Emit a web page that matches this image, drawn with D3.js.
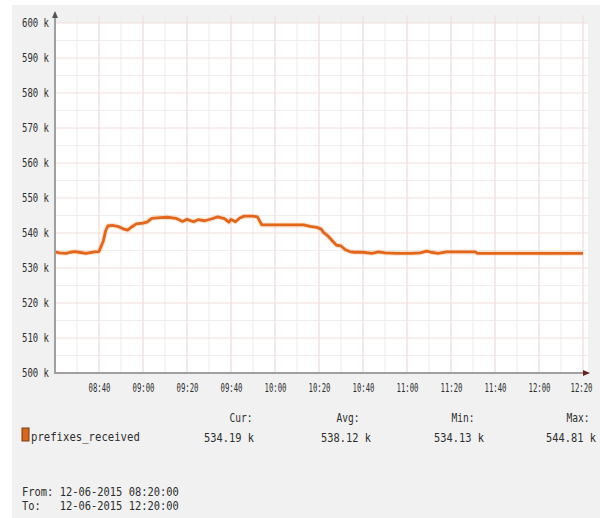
<!DOCTYPE html>
<html>
<head>
<meta charset="utf-8">
<script src="https://cdn.jsdelivr.net/npm/d3@7"></script>
<style>
  html, body { margin: 0; padding: 0; background: #ffffff; }
  svg { display: block; }
  text { font-family: "DejaVu Sans Mono", "Liberation Mono", monospace; fill: #2e2e2e; }
</style>
</head>
<body>
<svg id="chart" width="600" height="518"></svg>
<script>
// ---- data ----
const seriesName = "prefixes_received";
const times = ["08:20","08:22","08:25","08:27","08:29","08:31","08:34","08:36","08:38","08:40",
  "08:42","08:43","08:44","08:46","08:49","08:51","08:53","08:55","08:57","09:00",
  "09:02","09:04","09:08","09:11","09:15","09:18","09:20","09:23","09:25","09:28",
  "09:31","09:34","09:37","09:39","09:40","09:42","09:44","09:46","09:50","09:52",
  "09:54","10:00","10:07","10:13","10:16","10:19","10:21","10:22","10:24","10:26",
  "10:28","10:30","10:32","10:34","10:36","10:40","10:44","10:47","10:50","10:55",
  "11:02","11:06","11:09","11:11","11:14","11:18","11:24","11:31","11:32","11:50",
  "12:05","12:20"];
const values = [534.6,534.3,534.2,534.5,534.7,534.5,534.2,534.4,534.6,534.7,
  537.8,540.6,542.0,542.2,541.8,541.2,540.8,541.8,542.6,542.8,
  543.2,544.2,544.4,544.5,544.2,543.3,543.9,543.2,543.8,543.5,
  544.0,544.6,544.1,543.1,543.9,543.2,544.3,544.81,544.8,544.6,
  542.3,542.3,542.3,542.3,541.9,541.6,541.1,540.2,539.2,537.8,
  536.5,536.3,535.2,534.7,534.5,534.5,534.2,534.6,534.3,534.2,
  534.2,534.3,534.8,534.5,534.2,534.6,534.6,534.6,534.2,534.2,
  534.15,534.19];
const timeRange = ["08:20", "12:20"];
const yTicks = [500,510,520,530,540,550,560,570,580,590,600];
const xTickLabels = ["08:40","09:00","09:20","09:40","10:00","10:20","10:40","11:00","11:20","11:40","12:00","12:20"];
const statHeaders = ["Cur:", "Avg:", "Min:", "Max:"];
const statValues = ["534.19 k", "538.12 k", "534.13 k", "544.81 k"];
const fromText = "From: 12-06-2015 08:20:00";
const toText = "To:   12-06-2015 12:20:00";

// ---- layout ----
const svg = d3.select("#chart");
const L = 55, R = 583, T = 23, B = 373, plotRight = 588;
const parse = d3.timeParse("%H:%M");
const x = d3.scaleTime().domain(timeRange.map(parse)).range([L, R]);
const y = d3.scaleLinear().domain([500, 600]).range([B, T]);

// squeeze text horizontally to a target width (keeps anchor position)
function squeeze(sel, target) {
  sel.each(function () {
    const natural = this.getComputedTextLength();
    if (!natural) return;
    const sx = target / natural;
    const x0 = +(this.getAttribute("x") || 0);
    d3.select(this).attr("x", x0 / sx).attr("transform", `scale(${sx},1)`);
  });
}

// background
svg.append("rect").attr("x", 0).attr("y", 0).attr("width", 600).attr("height", 518).attr("fill", "#ffffff");
svg.append("rect").attr("x", 12).attr("y", 5).attr("width", 588).attr("height", 513).attr("fill", "#f1f1f1");
svg.append("rect").attr("x", L).attr("y", T).attr("width", plotRight - L).attr("height", B - T).attr("fill", "#ffffff");

// grid
const g = svg.append("g");
const minorX = d3.timeMinute.every(10).range(parse("08:20"), d3.timeMinute.offset(parse("12:20"), 1));
g.selectAll("line.vminor").data(minorX).join("line")
  .attr("x1", d => x(d)).attr("x2", d => x(d)).attr("y1", T - 8).attr("y2", B)
  .attr("stroke", "#ececec").attr("stroke-width", 1);
const minorY = d3.range(505, 600, 10);
g.selectAll("line.hminor").data(minorY).join("line")
  .attr("x1", L).attr("x2", plotRight).attr("y1", d => y(d)).attr("y2", d => y(d))
  .attr("stroke", "#eeeeee").attr("stroke-width", 1);
g.selectAll("line.hmajor").data(yTicks.slice(1)).join("line")
  .attr("x1", L).attr("x2", plotRight).attr("y1", d => y(d)).attr("y2", d => y(d))
  .attr("stroke", "#f1dede").attr("stroke-width", 1);
g.selectAll("line.vmajor").data(xTickLabels.map(parse)).join("line")
  .attr("x1", d => x(d)).attr("x2", d => x(d)).attr("y1", T - 8).attr("y2", B)
  .attr("stroke", "#f1dede").attr("stroke-width", 1);

// data line
const pts = times.map((t, i) => [parse(t), values[i]]);
const line = d3.line().x(d => x(d[0])).y(d => y(d[1])).curve(d3.curveLinear);
svg.append("path").datum(pts).attr("d", line)
  .attr("fill", "none").attr("stroke", "#f3a468").attr("stroke-width", 5).attr("stroke-opacity", 0.3)
  .attr("stroke-linejoin", "round");
svg.append("path").datum(pts).attr("d", line)
  .attr("fill", "none").attr("stroke", "#e2661c").attr("stroke-width", 2.8)
  .attr("stroke-linejoin", "round");

// axes lines
svg.append("line").attr("x1", L).attr("x2", plotRight).attr("y1", B).attr("y2", B)
  .attr("stroke", "#a0a0a0").attr("stroke-width", 2);
svg.append("line").attr("x1", L).attr("x2", L).attr("y1", B + 1).attr("y2", 14)
  .attr("stroke", "#a0a0a0").attr("stroke-width", 2);
// arrows
svg.append("path").attr("d", `M${L - 3},${18} L${L},${11} L${L + 3},${18} Z`).attr("fill", "#555");
svg.append("path").attr("d", `M${plotRight - 5},${B - 3} L${plotRight + 2},${B} L${plotRight - 5},${B + 3} Z`).attr("fill", "#6a2020");

// y axis labels
const yAxis = d3.axisLeft(y).tickValues(yTicks).tickFormat(d => d + " k").tickSize(0).tickPadding(6);
const ya = svg.append("g").attr("transform", `translate(${L},0)`).call(yAxis);
ya.select(".domain").remove();
ya.selectAll("text").attr("font-size", 12).attr("fill", "#2e2e2e").attr("font-family", "DejaVu Sans Mono");
squeeze(ya.selectAll("text"), 27);

// x axis labels
const xAxis = d3.axisBottom(x).tickValues(xTickLabels.map(parse)).tickFormat(d3.timeFormat("%H:%M")).tickSize(0).tickPadding(10);
const xa = svg.append("g").attr("transform", `translate(0,${B})`).call(xAxis);
xa.select(".domain").remove();
xa.selectAll("text").attr("font-size", 12).attr("fill", "#2e2e2e").attr("font-family", "DejaVu Sans Mono");
xa.selectAll(".tick").filter((d, i, n) => i === n.length - 1).select("text").attr("x", -2);
squeeze(xa.selectAll("text"), 22);

// legend
svg.append("rect").attr("x", 22).attr("y", 428).attr("width", 7).attr("height", 13)
  .attr("fill", "#d8661f").attr("stroke", "#7a3a12").attr("stroke-width", 1);
function txt(s, xx, yy, w, anchor) {
  const t = svg.append("text").attr("x", xx).attr("y", yy).attr("font-size", 12)
    .attr("text-anchor", anchor || "start").attr("fill", "#2e2e2e")
    .style("white-space", "pre").text(s);
  squeeze(t, w);
}
txt(seriesName, 31, 441, 109);
const headerCenters = [241, 348, 463, 578];
const valueCenters = [229, 346, 459, 571];
statHeaders.forEach((h, i) => txt(h, headerCenters[i], 422, 23, "middle"));
statValues.forEach((v, i) => txt(v, valueCenters[i], 442, 50, "middle"));
txt(fromText, 22, 496, 157);
txt(toText, 22, 510, 157);
</script>
</body>
</html>
